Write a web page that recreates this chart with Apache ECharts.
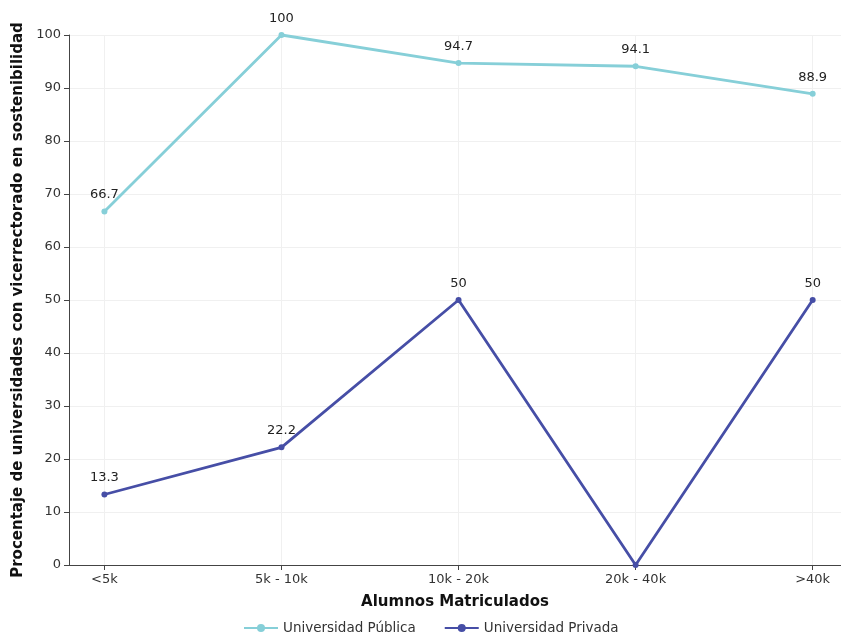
<!DOCTYPE html>
<html><head><meta charset="utf-8">
<script src="https://cdn.jsdelivr.net/npm/echarts@6/dist/echarts.min.js"></script>
<style>html,body{margin:0;padding:0;background:#fff}#c{width:841px;height:637px}</style>
</head><body><div id="c"></div>
<script>
const categories = ["<5k", "5k - 10k", "10k - 20k", "20k - 40k", ">40k"];
const publica = [66.7, 100, 94.7, 94.1, 88.9];
const privada = [13.3, 22.2, 50, 0, 50];
const seriesNames = ["Universidad Pública", "Universidad Privada"];
const yTicks = [0, 10, 20, 30, 40, 50, 60, 70, 80, 90, 100];

const idx = categories.map((_, i) => i);
const chart = echarts.init(document.getElementById('c'));
const font = "DejaVu Sans";
function mk(name, vals, color) {
  return {
    name, type: 'line', data: vals.map((v, i) => [i, v]),
    symbol: 'circle', symbolSize: 6,
    lineStyle: { color, width: 2.8 }, itemStyle: { color },
    label: { show: true, position: 'top', distance: 7, color: '#222', fontFamily: font, fontSize: 13,
      formatter: p => p.value[1] === 0 ? '' : String(p.value[1]) },
    clip: false
  };
}
chart.setOption({
  animation: false,
  textStyle: { fontFamily: font },
  grid: { left: 69, top: 35, width: 772, height: 530 },
  xAxis: {
    type: 'value', min: -0.2, max: 4.16,
    name: 'Alumnos Matriculados', nameLocation: 'middle', nameGap: 30,
    nameTextStyle: { fontWeight: 'bold', fontSize: 15, color: '#111', fontFamily: font },
    axisLine: { show: true, onZero: false, lineStyle: { color: '#444' } },
    axisTick: { show: true, customValues: idx, lineStyle: { color: '#444' } },
    axisLabel: { customValues: idx, formatter: v => categories[Math.round(v)], color: '#333', fontSize: 13, margin: 8 },
    splitLine: { show: true, lineStyle: { color: '#f0f0f0' } }
  },
  yAxis: {
    type: 'value', min: 0, max: 100, interval: 10,
    name: 'Procentaje de universidades con vicerrectorado en sostenibilidad', nameLocation: 'middle', nameGap: 41,
    nameTextStyle: { fontWeight: 'bold', fontSize: 15, color: '#111', fontFamily: font },
    axisLine: { show: true, onZero: false, lineStyle: { color: '#444' } },
    axisTick: { show: true, lineStyle: { color: '#444' } },
    axisLabel: { color: '#333', fontSize: 13, margin: 8, formatter: v => yTicks.includes(v) ? String(v) : '' },
    splitLine: { show: true, lineStyle: { color: '#f0f0f0' } }
  },
  legend: {
    bottom: -3, left: 238, itemWidth: 34, itemHeight: 10, itemGap: 28,
    textStyle: { color: '#333', fontSize: 13.5, fontFamily: font },
    data: seriesNames
  },
  series: [mk(seriesNames[0], publica, '#86cfd8'), mk(seriesNames[1], privada, '#464ea6')]
});
</script></body></html>
